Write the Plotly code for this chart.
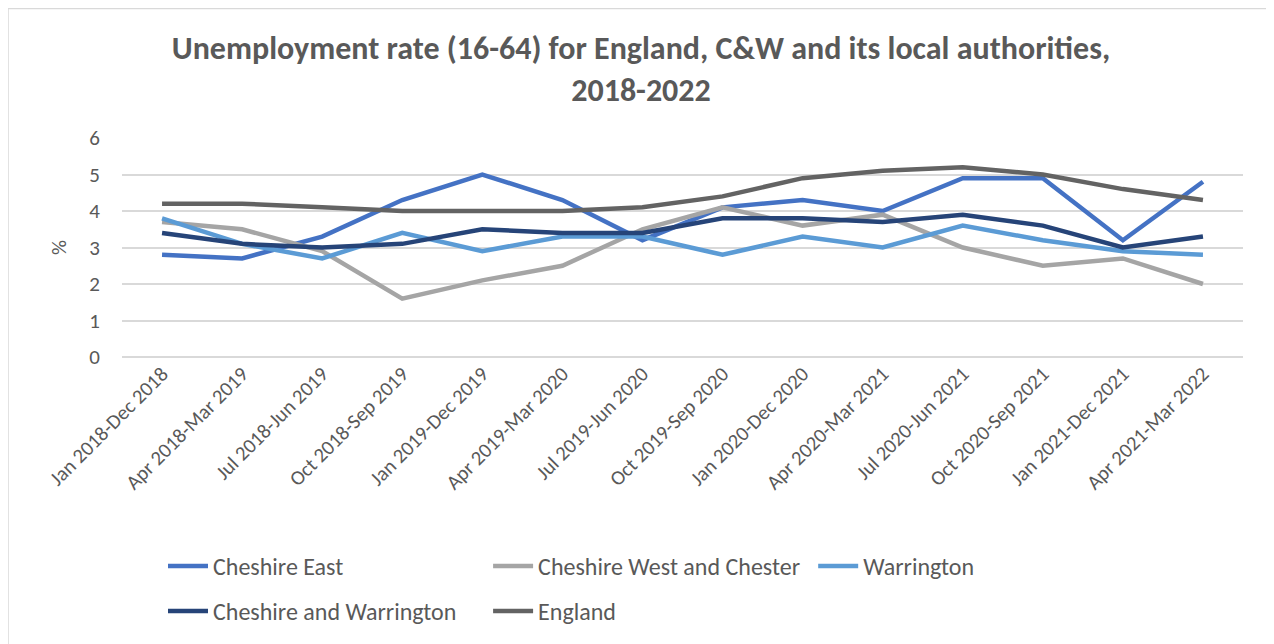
import plotly.graph_objects as go

categories = ["Jan 2018-Dec 2018", "Apr 2018-Mar 2019", "Jul 2018-Jun 2019", "Oct 2018-Sep 2019",
              "Jan 2019-Dec 2019", "Apr 2019-Mar 2020", "Jul 2019-Jun 2020", "Oct 2019-Sep 2020",
              "Jan 2020-Dec 2020", "Apr 2020-Mar 2021", "Jul 2020-Jun 2021", "Oct 2020-Sep 2021",
              "Jan 2021-Dec 2021", "Apr 2021-Mar 2022"]

cheshire_east = [2.8, 2.7, 3.3, 4.3, 5.0, 4.3, 3.2, 4.1, 4.3, 4.0, 4.9, 4.9, 3.2, 4.8]
cheshire_west = [3.7, 3.5, 2.9, 1.6, 2.1, 2.5, 3.5, 4.1, 3.6, 3.9, 3.0, 2.5, 2.7, 2.0]
warrington = [3.8, 3.1, 2.7, 3.4, 2.9, 3.3, 3.3, 2.8, 3.3, 3.0, 3.6, 3.2, 2.9, 2.8]
cheshire_warrington = [3.4, 3.1, 3.0, 3.1, 3.5, 3.4, 3.4, 3.8, 3.8, 3.7, 3.9, 3.6, 3.0, 3.3]
england = [4.2, 4.2, 4.1, 4.0, 4.0, 4.0, 4.1, 4.4, 4.9, 5.1, 5.2, 5.0, 4.6, 4.3]

series = [
    ("Cheshire East", cheshire_east, "#4472C4", "legend"),
    ("Cheshire West and Chester", cheshire_west, "#A5A5A5", "legend"),
    ("Warrington", warrington, "#5B9BD5", "legend"),
    ("Cheshire and Warrington", cheshire_warrington, "#264478", "legend2"),
    ("England", england, "#636363", "legend2"),
]

FONT = "Carlito, Calibri, Lato, sans-serif"
TXT = "#595959"

fig = go.Figure()
for name, vals, col, lg in series:
    fig.add_trace(go.Scatter(x=categories, y=vals, name=name, mode="lines", legend=lg,
                             line=dict(color=col, width=4.5)))

# page has an 8px body margin; figure occupies page px 8..1274 x 8..644
W, H = 1266, 636
ml, mr, mt, mb = 114, 31, 130, 287
pw, ph = W - ml - mr, H - mt - mb

legend_common = dict(orientation="h", x=(155 - ml) / pw, xanchor="left", yref="container",
                     yanchor="top", entrywidth=0.29, entrywidthmode="fraction",
                     font=dict(size=24, color=TXT), itemwidth=40, bgcolor="rgba(0,0,0,0)")

fig.update_layout(
    width=W, height=H,
    margin=dict(l=ml, r=mr, t=mt, b=mb, autoexpand=False),
    paper_bgcolor="white", plot_bgcolor="white",
    font=dict(family=FONT, color=TXT, size=21),
    title=dict(text="<b>Unemployment rate (16-64) for England, C&W and its local authorities,<br>2018-2022</b>",
               x=0.5, xanchor="center", yref="container", y=1 - 51 / H, yanchor="top",
               font=dict(size=32, color=TXT, family=FONT)),
    xaxis=dict(type="category", tickangle=-45, showgrid=False, showline=False, ticks="",
               tickfont=dict(size=20.5, color=TXT), range=[-0.5, len(categories) - 0.5],
               automargin=False),
    yaxis=dict(range=[0, 6], dtick=1, showgrid=True, gridcolor="#D9D9D9", gridwidth=1.5,
               zeroline=True, zerolinecolor="#D9D9D9", zerolinewidth=1.5,
               tickfont=dict(size=21, color=TXT), ticks="", ticklen=0, ticklabelstandoff=21,
               automargin=False,
               title=dict(text="%", font=dict(size=21, color=TXT), standoff=16)),
    showlegend=True,
    legend=dict(legend_common, y=1 - 536 / H),
    legend2=dict(legend_common, y=1 - 581 / H),
    shapes=[dict(type="rect", xref="paper", yref="paper",
                 x0=(0 - ml) / pw, x1=(1264 - ml) / pw,
                 y0=(H - mb - 660) / ph, y1=(H - mb - 0.5) / ph,
                 line=dict(color="#D9D9D9", width=1.5), fillcolor="rgba(0,0,0,0)", layer="below")],
)

fig.write_html("out.html")
